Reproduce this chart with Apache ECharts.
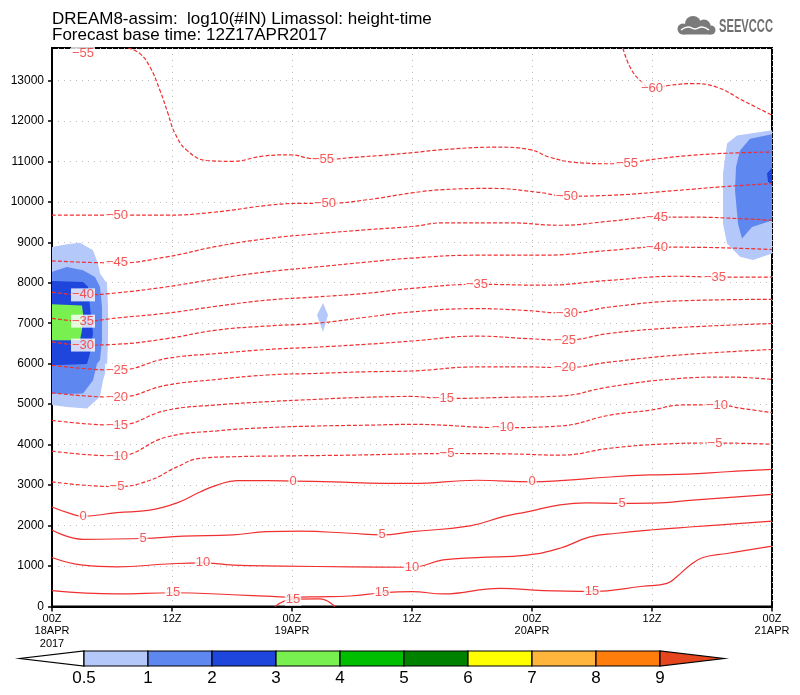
<!DOCTYPE html>
<html><head><meta charset="utf-8">
<script src="https://cdn.jsdelivr.net/npm/echarts@6/dist/echarts.min.js"></script>
<style>html,body{margin:0;padding:0;background:#fff}#c{width:800px;height:695px}</style>
</head><body><div id="c"></div>
<script>
// ---- axis ticks ----
const xTickLabels = ['00Z\n18APR\n2017','12Z','00Z\n19APR','12Z','00Z\n20APR','12Z','00Z\n21APR'];
const yTickStep = 1000;
// ---- temperature contours: [hour since 00Z18APR, height m] ----
const cM60 = [[57.1,13790],[57.8,13330],[58.8,13000],[60,12810],[61.8,12880],[64.1,12920],[66.5,12830],[69.1,12500],[72,12140]];
const cM55 = [[7.6,13800],[8.8,13660],[9.8,13330],[10.8,12750],[11.6,12180],[12.3,11690],[13.5,11270],[15.5,11020],[18.1,11000],[21.1,11130],[23.8,11160],[25.8,11070],[27.1,11040],[29.8,11090],[33.1,11150],[36.3,11220],[39.1,11290],[44.5,11350],[47.8,11290],[49.8,11100],[52.5,10970],[55.8,10940],[57.5,10960],[60.8,11070],[64.1,11150],[67.5,11200],[72,11230]];
const cM50 = [[0,9670],[6.5,9670],[11.5,9670],[16.5,9750],[21.5,9910],[24.8,9960],[27.3,9960],[31.5,10050],[36,10220],[39.1,10300],[44.1,10330],[48.5,10240],[51.5,10140],[55.8,10160],[62.5,10280],[67.5,10380],[72,10450]];
const cM45 = [[0,8540],[6.5,8490],[11.5,8640],[16.5,8900],[21.5,9090],[26.5,9210],[31.5,9310],[36,9390],[39.1,9480],[45.8,9480],[50.8,9420],[55.8,9520],[60.5,9620],[64.1,9620],[69.1,9580],[72,9540]];
const cM40 = [[0,7770],[3.1,7700],[6.5,7750],[11.5,7900],[16.5,8100],[21.5,8270],[26.5,8390],[31.5,8510],[36,8610],[42.5,8680],[49.1,8680],[55.8,8800],[60.5,8880],[65.8,8870],[72,8820]];
const cM35 = [[0,7120],[3.1,7050],[6.5,7130],[11.5,7250],[16.5,7420],[21.5,7570],[26.5,7650],[31.5,7740],[36,7860],[42.5,7960],[49.1,7940],[55.8,8060],[62.5,8160],[66.3,8140],[72,8140]];
const cM30 = [[0,6540],[3.1,6460],[6.5,6480],[11.5,6620],[16.5,6830],[21.5,6930],[26.5,7000],[31.5,7150],[36,7280],[42.5,7360],[47,7320],[51.5,7250],[55.8,7400],[62.5,7550],[72,7590]];
const cM25 = [[0,5960],[6.5,5840],[11.5,6130],[16.5,6250],[21.5,6350],[26.5,6410],[31.5,6480],[36,6560],[42.5,6680],[47.5,6620],[51.3,6580],[55.8,6750],[62.5,6890],[72,6990]];
const cM20 = [[0,5280],[6.5,5170],[11.5,5470],[16.5,5610],[21.5,5720],[26.5,5760],[31.5,5800],[36,5820],[42.5,5920],[47.5,5920],[51.3,5900],[55.8,6040],[62.5,6210],[72,6350]];
const cM15 = [[0,4600],[6.5,4480],[11.5,4850],[16.5,4980],[21.5,5060],[26.5,5120],[31.5,5170],[36,5190],[39.1,5140],[45.8,5170],[50.8,5200],[55.8,5430],[62.5,5630],[67.5,5670],[72,5610]];
const cM10 = [[0,3840],[6.5,3720],[11.5,4190],[16.5,4340],[21.5,4420],[26.5,4460],[31.5,4480],[36,4500],[45.1,4420],[50.8,4460],[55.8,4730],[59.8,4850],[63.1,4980],[66.5,4980],[69.1,4890],[72,4790]];
const cM5 = [[0,3080],[6.5,2960],[9.8,3120],[12.5,3450],[14.8,3660],[18.1,3700],[23.1,3720],[29.8,3740],[36,3770],[39.5,3780],[45.8,3770],[50.8,3740],[55.8,3910],[60.8,4010],[66.3,4040],[72,4010]];
const cP0 = [[0,2460],[1.8,2300],[3.1,2230],[6.5,2320],[9.8,2380],[12.5,2560],[14.8,2830],[16.5,3000],[18.5,3110],[21.5,3110],[24.1,3100],[28.1,3080],[33.1,3040],[36,3040],[42.5,3120],[48,3080],[50.8,3110],[55.8,3200],[59.8,3250],[63.5,3270],[67.5,3330],[72,3390]];
const cP5 = [[0,1890],[3.1,1660],[9.1,1680],[13.1,1740],[18.1,1770],[21.5,1850],[24.8,1860],[29.8,1810],[33,1770],[36,1850],[41.8,1990],[45.1,2220],[47.5,2340],[50.8,2510],[53.5,2560],[57,2550],[60.8,2560],[64.1,2630],[72,2770]];
const cP10 = [[0,1210],[3.1,1020],[6.5,980],[11.5,1050],[15.1,1080],[18.1,1020],[23.1,1000],[29.8,980],[36,970],[39.1,1150],[42.5,1210],[47.5,1270],[50.8,1440],[53.8,1720],[56.5,1810],[59.8,1890],[64.1,1970],[72,2110]];
const cP15 = [[0,390],[6.5,310],[12.1,340],[18.1,290],[22,250],[24.1,230],[26.5,240],[29.8,260],[33,340],[36,370],[39.1,310],[44.8,450],[49.1,390],[54,370],[59.1,500],[61.5,570],[62.5,740],[63.8,1020],[65.1,1210],[67.5,1310],[72,1490]];
const cP15b = [[22.3,0],[24.1,180],[26.8,190],[28.3,0]];
// ---- contour labels: [hour, height, text] ----
const contourLabels = [
 [3.1,13670,'−55'],[27.1,11040,'−55'],[57.5,10960,'−55'],
 [60,12810,'−60'],
 [6.5,9670,'−50'],[27.3,9960,'−50'],[51.5,10140,'−50'],
 [6.5,8490,'−45'],[60.5,9620,'−45'],
 [3.1,7700,'−40'],[60.5,8880,'−40'],
 [3.1,7050,'−35'],[42.5,7960,'−35'],[66.3,8140,'−35'],
 [3.1,6460,'−30'],[51.5,7250,'−30'],
 [6.5,5840,'−25'],[51.3,6580,'−25'],
 [6.5,5170,'−20'],[51.3,5900,'−20'],
 [6.5,4480,'−15'],[39.1,5140,'−15'],
 [6.5,3720,'−10'],[45.1,4420,'−10'],[66.5,4980,'−10'],
 [6.5,2960,'−5'],[39.5,3780,'−5'],[66.3,4040,'−5'],
 [3.1,2230,'0'],[24.1,3100,'0'],[48,3080,'0'],
 [9.1,1680,'5'],[33,1770,'5'],[57,2550,'5'],
 [15.1,1080,'10'],[36,970,'10'],
 [12.1,340,'15'],[24.1,180,'15'],[33,340,'15'],[54,370,'15']
];
// ---- log10(#IN) shaded areas: polygon of [hour, height], with colour class ----
const shadeL1 = [[0,8880],[1.5,8950],[2.8,8990],[4.1,8800],[4.6,8470],[4.8,8230],[5.5,7980],[5.6,7400],[5.6,6580],[5.5,5920],[5.1,5590],[4.8,5180],[3.5,4890],[1.5,4930],[0,4980]];
const shadeL2 = [[0,8270],[1.5,8390],[3.1,8310],[4.3,8140],[4.8,7900],[5.0,7400],[5.0,6580],[4.8,6090],[4.5,6000],[4.1,5590],[3.1,5260],[1.5,5250],[0,5260]];
const shadeL3 = [[0,8040],[3.1,8020],[3.6,7900],[3.8,7400],[4.1,6750],[3.8,6250],[3.5,5990],[0,5960]];
const shadeL4 = [[0,7470],[3.0,7440],[3.1,7240],[3.0,6830],[2.8,6580],[0,6580]];
const shadeM1 = [[27.1,7500],[27.6,7200],[27.1,6780],[26.5,7200]];
const shadeR1 = [[72,11770],[68.5,11640],[67.5,11440],[67.1,10700],[67.1,9460],[67.5,8970],[68.8,8640],[70.1,8560],[72,8720]];
const shadeR2 = [[72,11670],[69.8,11560],[68.8,11270],[68.4,10860],[68.3,10280],[68.6,9460],[69.0,9090],[70.0,9380],[72,9540]];
const shadeR3 = [[72,10850],[71.5,10700],[71.6,10500],[72,10400]];
const shadeClass = [1,2,3,4,1,1,2,3];
// ---- colour bar ----
const cbLabels = ['0.5','1','2','3','4','5','6','7','8','9'];
const cbColors = ['#ffffff','#b4c8fa','#5f87f0','#1e46dc','#78f050','#00be00','#008200','#ffff00','#ffb43c','#ff7d0a','#e6461e'];

const shades = [shadeL1,shadeL2,shadeL3,shadeL4,shadeM1,shadeR1,shadeR2,shadeR3];
const contours = [
 {d:cM60,neg:true},{d:cM55,neg:true},{d:cM50,neg:true},{d:cM45,neg:true},{d:cM40,neg:true},
 {d:cM35,neg:true},{d:cM30,neg:true},{d:cM25,neg:true},{d:cM20,neg:true},{d:cM15,neg:true},
 {d:cM10,neg:true},{d:cM5,neg:true},{d:cP0,neg:false},{d:cP5,neg:false},{d:cP10,neg:false},
 {d:cP15,neg:false},{d:cP15b,neg:false}
];
const RED = '#f03030';
const FONT = 'Liberation Sans, Arial, sans-serif';

const series = [];
series.push({
  type:'custom', xAxisIndex:0, yAxisIndex:0, clip:true, silent:true, z:1,
  data: shades.map((s,i)=>[i]),
  renderItem:(params,api)=>{
    const i = api.value(0);
    const pts = shades[i].map(p=>api.coord(p));
    return {type:'polygon', shape:{points:pts}, style:{fill:cbColors[shadeClass[i]]}};
  }
});
contours.forEach(c=>{
  series.push({
    type:'line', xAxisIndex:0, yAxisIndex:0, data:c.d, showSymbol:false, symbol:'none',
    smooth:0.45, silent:true, z:3,
    lineStyle:{color:RED, width:1.2, type: c.neg ? [4,2] : 'solid'}
  });
});
series.push({
  type:'scatter', xAxisIndex:0, yAxisIndex:0, data:contourLabels, symbolSize:0, silent:true, z:5,
  label:{show:true, position:'inside', formatter:p=>p.value[2], color:RED, fontSize:13,
         fontFamily:FONT, backgroundColor:'#fff', padding:[0,1,0,1]}
});
series.push({
  type:'custom', xAxisIndex:1, yAxisIndex:1, silent:true,
  data: cbColors.map((c,i)=>[i]),
  renderItem:(params,api)=>{
    const i = api.value(0);
    const st = {fill:cbColors[i], stroke:'#000', lineWidth:1.2};
    if (i===0) return {type:'polygon', shape:{points:[api.coord([1,0]),api.coord([1,1]),api.coord([0,0.5])]}, style:st};
    if (i===cbColors.length-1) return {type:'polygon', shape:{points:[api.coord([i,0]),api.coord([i,1]),api.coord([i+1,0.5])]}, style:st};
    const a = api.coord([i,1]), b = api.coord([i+1,0]);
    return {type:'rect', shape:{x:a[0], y:a[1], width:b[0]-a[0], height:b[1]-a[1]}, style:st};
  }
});

const chart = echarts.init(document.getElementById('c'), null, {renderer:'canvas'});
chart.setOption({
  animation:false,
  backgroundColor:'#fff',
  grid:[
    {left:52, right:28, top:48, bottom:88.5, show:true, borderColor:'#000', borderWidth:2, backgroundColor:'transparent'},
    {left:20, width:704, top:651, height:15}
  ],
  xAxis:[
    {type:'value', gridIndex:0, min:0, max:72, interval:12,
     axisLine:{show:true, lineStyle:{color:'#000', width:2}},
     axisTick:{show:true, length:5, lineStyle:{color:'#000', width:1.5}},
     axisLabel:{color:'#000', fontSize:11, fontFamily:FONT, lineHeight:12.5, margin:6,
       formatter:v=>xTickLabels[Math.round(v/12)]},
     splitLine:{show:true, lineStyle:{color:'#bdbdbd', type:[1,5], width:1}}},
    {type:'value', gridIndex:1, min:0, max:11, interval:1,
     axisLine:{show:false}, axisTick:{show:false}, splitLine:{show:false},
     axisLabel:{color:'#000', fontSize:17, fontFamily:FONT, margin:4,
       formatter:v=>(v>=1 && v<=10) ? cbLabels[v-1] : ''}}
  ],
  yAxis:[
    {type:'value', gridIndex:0, min:0, max:13800, interval:yTickStep,
     axisLine:{show:true, lineStyle:{color:'#000', width:2}},
     axisTick:{show:true, length:4, lineStyle:{color:'#000', width:1.5}},
     axisLabel:{color:'#000', fontSize:12, fontFamily:FONT, margin:8, showMaxLabel:false,
       formatter:v=>String(v)},
     splitLine:{show:true, lineStyle:{color:'#bdbdbd', type:[1,5], width:1}}},
    {type:'value', gridIndex:1, min:0, max:1, show:false}
  ],
  graphic:[
    {type:'text', x:52, y:19, style:{text:'DREAM8-assim:  log10(#IN) Limassol: height-time', fill:'#000', font:'17px '+FONT, textVerticalAlign:'middle'}},
    {type:'text', x:52, y:35, style:{text:'Forecast base time: 12Z17APR2017', fill:'#000', font:'17px '+FONT, textVerticalAlign:'middle'}},
    {type:'group', children:[
      {type:'circle', shape:{cx:683, cy:29, r:5.5}, style:{fill:'#7a7a7a'}},
      {type:'circle', shape:{cx:693, cy:24, r:8}, style:{fill:'#7a7a7a'}},
      {type:'circle', shape:{cx:704, cy:26, r:6.5}, style:{fill:'#7a7a7a'}},
      {type:'circle', shape:{cx:711, cy:30, r:4.5}, style:{fill:'#7a7a7a'}},
      {type:'rect', shape:{x:683, y:28, width:28, height:6.5}, style:{fill:'#7a7a7a'}},
      {type:'polyline', shape:{points:[[681,30],[688,27],[695,29],[702,27],[709,30]], smooth:0.5}, style:{fill:null, stroke:'#fff', lineWidth:1.5}}
    ]},
    {type:'text', x:719, y:27, scaleX:0.62, style:{text:'SEEVCCC', fill:'#6f6f6f', font:'bold 18px '+FONT, textVerticalAlign:'middle'}}
  ],
  series:series
});
</script></body></html>
